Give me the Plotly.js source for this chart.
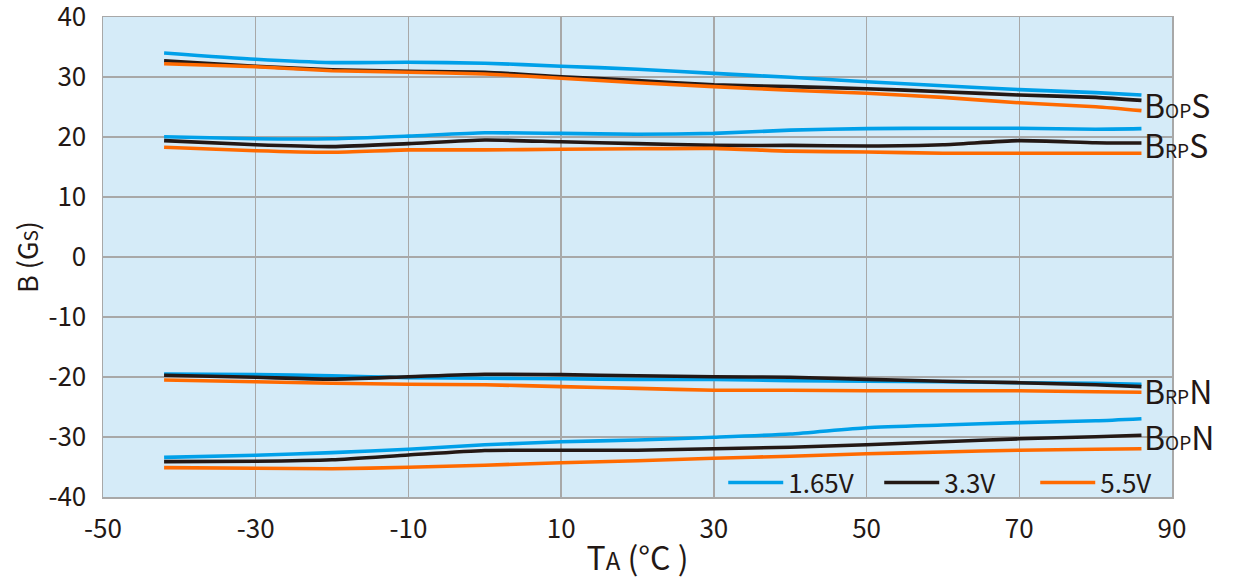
<!DOCTYPE html>
<html>
<head>
<meta charset="utf-8">
<script src="https://cdn.plot.ly/plotly-3.0.1.min.js"></script>
<style>html,body{margin:0;padding:0;background:#fff;}#chart{width:1236px;height:583px;}</style>
</head>
<body>
<div id="chart"></div>
<script>
// Temperature (°C)
const temps = [-42, -30, -20, -10, 0, 10, 20, 30, 40, 50, 60, 70, 80, 86];

// BopS
const bopS_165 = [34.0, 32.95, 32.4, 32.45, 32.3, 31.8, 31.3, 30.6, 29.95, 29.2, 28.55, 27.9, 27.4, 27.0];
const bopS_33  = [32.7, 31.8, 31.2, 30.95, 30.8, 30.05, 29.4, 28.7, 28.4, 28.05, 27.55, 27.0, 26.6, 26.1];
const bopS_55  = [32.2, 31.7, 31.05, 30.8, 30.5, 29.8, 29.05, 28.4, 27.8, 27.3, 26.6, 25.7, 25.05, 24.4];

// BrpS
const brpS_165 = [20.05, 19.7, 19.7, 20.15, 20.7, 20.6, 20.45, 20.6, 21.15, 21.4, 21.45, 21.45, 21.3, 21.4];
const brpS_33  = [19.4, 18.7, 18.4, 18.9, 19.5, 19.2, 18.9, 18.6, 18.6, 18.5, 18.7, 19.4, 19.05, 19.0];
const brpS_55  = [18.3, 17.7, 17.45, 17.85, 17.85, 17.95, 18.05, 18.1, 17.65, 17.5, 17.3, 17.3, 17.3, 17.3];

// BrpN
const brpN_165 = [-19.5, -19.6, -19.8, -20.1, -20.2, -20.3, -20.4, -20.4, -20.6, -20.7, -20.8, -20.95, -21.05, -21.2];
const brpN_33  = [-19.7, -20.05, -20.35, -19.95, -19.55, -19.6, -19.8, -19.95, -20.05, -20.4, -20.7, -20.95, -21.3, -21.6];
const brpN_55  = [-20.5, -20.8, -21.05, -21.2, -21.3, -21.6, -21.9, -22.2, -22.2, -22.3, -22.3, -22.3, -22.45, -22.55];

// BopN
const bopN_165 = [-33.4, -33.05, -32.6, -32.05, -31.3, -30.8, -30.5, -30.05, -29.5, -28.45, -28.0, -27.6, -27.3, -26.95];
const bopN_33  = [-34.1, -34.05, -33.8, -33.0, -32.25, -32.2, -32.2, -31.95, -31.7, -31.3, -30.8, -30.3, -29.95, -29.7];
const bopN_55  = [-35.1, -35.2, -35.3, -35.05, -34.7, -34.3, -33.95, -33.55, -33.2, -32.8, -32.5, -32.2, -32.05, -31.95];

const xTicks = [-50, -30, -10, 10, 30, 50, 70, 90];
const yTicks = [-40, -30, -20, -10, 0, 10, 20, 30, 40];

const seriesNames = ['1.65V', '3.3V', '5.5V'];
const seriesColors = ['#00A0E9', '#231815', '#FF6A00'];

const groups = [
  {label: 'B<span style="font-size:19px">OP</span>S', data: [bopS_165, bopS_33, bopS_55]},
  {label: 'B<span style="font-size:19px">RP</span>S', data: [brpS_165, brpS_33, brpS_55]},
  {label: 'B<span style="font-size:19px">RP</span>N', data: [brpN_165, brpN_33, brpN_55]},
  {label: 'B<span style="font-size:19px">OP</span>N', data: [bopN_165, bopN_33, bopN_55]}
];

const FONT = '"Noto Sans CJK SC", "Noto Sans", sans-serif';
const TXT = '#231815';

const traces = [];
groups.forEach((g, gi) => {
  g.data.forEach((ys, si) => {
    traces.push({
      x: temps, y: ys, type: 'scatter', mode: 'lines',
      line: {color: seriesColors[si], width: 3.6, shape: 'spline', smoothing: 0.6},
      name: seriesNames[si], legendgroup: seriesNames[si],
      showlegend: gi === 0, hoverinfo: 'x+y'
    });
  });
});

const annotations = groups.map(g => {
  const lasts = g.data.map(a => a[a.length - 1]);
  const yMean = lasts.reduce((s, v) => s + v, 0) / lasts.length;
  return {
    x: temps[temps.length - 1], y: yMean, xref: 'x', yref: 'y',
    text: g.label, showarrow: false, xanchor: 'left', yanchor: 'middle', xshift: 1, yshift: -2,
    font: {family: FONT, size: 32, color: TXT}
  };
});

const layout = {
  width: 1236, height: 583,
  margin: {l: 103, r: 64, t: 17, b: 86},
  paper_bgcolor: '#ffffff',
  plot_bgcolor: '#D5EBF8',
  showlegend: true,
  legend: {
    orientation: 'h', x: 1.018, xanchor: 'right', y: 0.03, yanchor: 'middle',
    bgcolor: 'rgba(0,0,0,0)', font: {family: FONT, size: 26, color: TXT},
    itemwidth: 55, traceorder: 'normal', entrywidth: 86, entrywidthmode: 'pixels'
  },
  xaxis: {
    range: [-50, 90], tickvals: xTicks, ticktext: xTicks.map(String),
    showgrid: true, gridcolor: '#A8A8A8', gridwidth: 1.5,
    showline: true, linecolor: '#A8A8A8', linewidth: 1.5, mirror: true,
    zeroline: false, ticks: '', ticklabelstandoff: 8, ticklabeloverflow: 'allow',
    tickfont: {family: FONT, size: 26, color: TXT},
    title: {text: 'T<span style="font-size:24px">A</span> (°C )', font: {family: FONT, size: 32, color: TXT}, standoff: 4}
  },
  yaxis: {
    range: [-40, 40], tickvals: yTicks, ticktext: yTicks.map(String),
    showgrid: true, gridcolor: '#A8A8A8', gridwidth: 1.5,
    showline: true, linecolor: '#A8A8A8', linewidth: 1.5, mirror: true,
    zeroline: false, ticks: '', ticklabelstandoff: 10, ticklabeloverflow: 'allow',
    tickfont: {family: FONT, size: 26, color: TXT},
    title: {text: 'B (G<span style="font-size:19px">S</span>)', font: {family: FONT, size: 27, color: TXT}, standoff: 2}
  },
  annotations: annotations
};

Plotly.newPlot('chart', traces, layout, {displayModeBar: false, staticPlot: true});
</script>
</body>
</html>
